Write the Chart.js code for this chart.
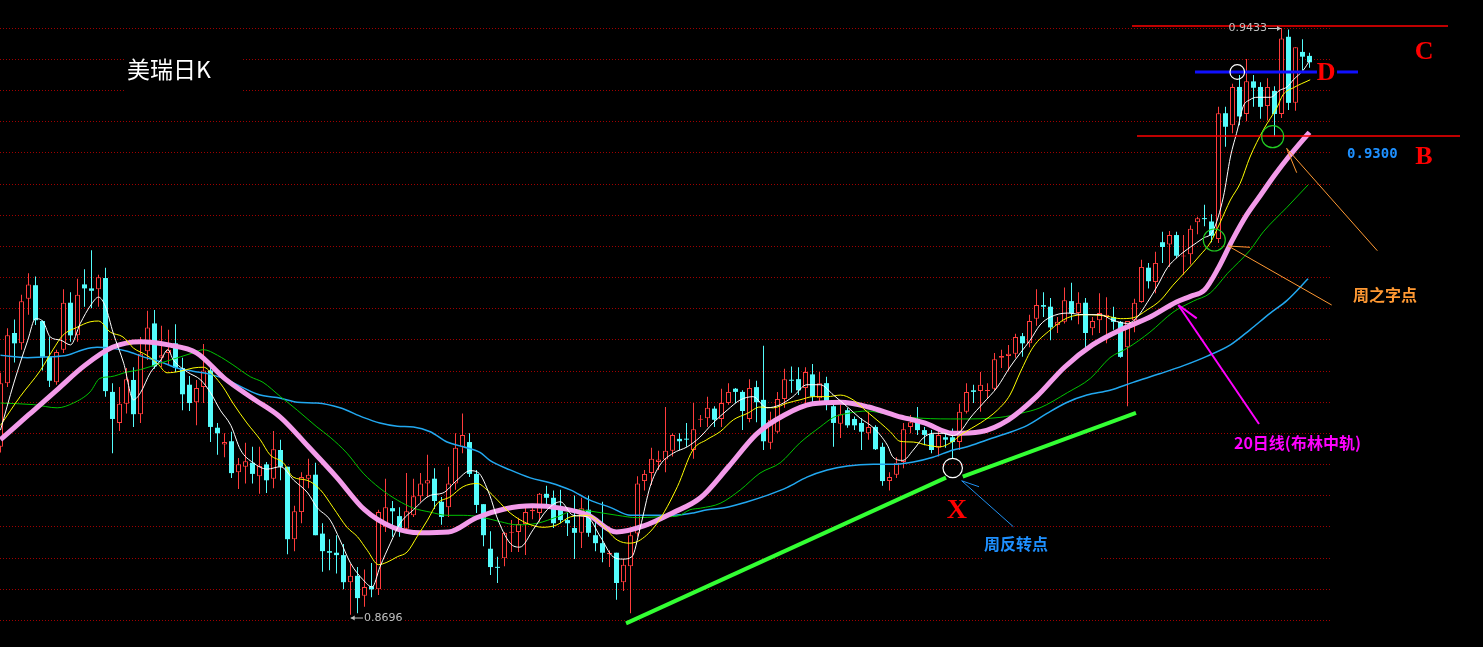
<!DOCTYPE html>
<html><head><meta charset="utf-8">
<script src="https://cdn.jsdelivr.net/npm/chart.js@4.4.1/dist/chart.umd.min.js"></script>
<style>html,body{margin:0;padding:0;background:#000;overflow:hidden}canvas{display:block}</style>
</head><body>
<canvas id="c" width="1483" height="647"></canvas>
<script>
// ---- candle data (index 0..187), daily OHLC ----
const open = [0.8907,0.8987,0.9050,0.9037,0.9093,0.9110,0.9065,0.9020,0.8988,0.9029,
0.9088,0.9047,0.9111,0.9106,0.9105,0.9119,0.8976,0.8937,0.8961,0.8991,
0.8948,0.9027,0.9062,0.9019,0.9025,0.9037,0.9006,0.8985,0.8963,0.8982,
0.9003,0.8931,0.8910,0.8914,0.8875,0.8882,0.8887,0.8870,0.8885,0.8867,
0.8903,0.8882,0.8791,0.8825,0.8867,0.8872,0.8798,0.8776,0.8774,0.8771,
0.8737,0.8745,0.8720,0.8732,0.8728,0.8806,0.8830,0.8820,0.8804,0.8821,
0.8845,0.8861,0.8867,0.8838,0.8831,0.8861,0.8907,0.8913,0.8873,0.8835,
0.8779,0.8756,0.8767,0.8799,0.8800,0.8810,0.8826,0.8824,0.8848,0.8843,
0.8828,0.8815,0.8805,0.8799,0.8828,0.8796,0.8786,0.8772,0.8774,0.8737,
0.8757,0.8798,0.8864,0.8874,0.8888,0.8891,0.8902,0.8917,0.8917,0.8903,
0.8941,0.8943,0.8955,0.8942,0.8962,0.8980,0.8976,0.8942,0.8982,0.8966,
0.8912,0.8926,0.8967,0.8991,0.8992,0.8981,0.8998,0.8968,0.8987,0.8958,
0.8936,0.8953,0.8942,0.8937,0.8924,0.8932,0.8907,0.8864,0.8872,0.8888,
0.8932,0.8937,0.8928,0.8923,0.8906,0.8919,0.8919,0.8913,0.8951,0.8978,
0.8977,0.8977,0.8980,0.9019,0.9021,0.9024,0.9046,0.9037,0.9068,0.9085,
0.9083,0.9060,0.9064,0.9090,0.9075,0.9088,0.9056,0.9066,0.9070,0.9070,
0.9064,0.9032,0.9066,0.9089,0.9132,0.9114,0.9164,0.9161,0.9173,0.9146,
0.9149,0.9189,0.9194,0.9190,0.9168,0.9326,0.9311,0.9359,0.9325,0.9366,
0.9359,0.9335,0.9354,0.9325,0.9422,0.9339,0.9403,0.9398];
const high = [0.9000,0.9056,0.9067,0.9098,0.9125,0.9121,0.9066,0.9045,0.9029,0.9105,
0.9101,0.9118,0.9130,0.9154,0.9123,0.9132,0.8987,0.8982,0.9006,0.9007,
0.9045,0.9078,0.9079,0.9059,0.9054,0.9061,0.9019,0.8996,0.8991,0.9036,
0.9010,0.8937,0.8924,0.8926,0.8893,0.8912,0.8907,0.8907,0.8888,0.8927,
0.8916,0.8882,0.8833,0.8875,0.8892,0.8887,0.8811,0.8791,0.8796,0.8785,
0.8760,0.8756,0.8753,0.8761,0.8828,0.8867,0.8839,0.8831,0.8874,0.8867,
0.8874,0.8897,0.8880,0.8844,0.8882,0.8924,0.8949,0.8924,0.8878,0.8835,
0.8801,0.8769,0.8800,0.8815,0.8818,0.8833,0.8834,0.8849,0.8858,0.8852,
0.8853,0.8824,0.8846,0.8843,0.8846,0.8815,0.8838,0.8777,0.8774,0.8766,
0.8800,0.8870,0.8878,0.8906,0.8902,0.8957,0.8924,0.8924,0.8937,0.8962,
0.8947,0.8970,0.8958,0.8980,0.8987,0.8981,0.8978,0.8992,0.8990,0.9034,
0.8951,0.8976,0.9005,0.9008,0.9007,0.9007,0.9011,0.9001,0.8995,0.8960,
0.8960,0.8956,0.8945,0.8943,0.8951,0.8934,0.8912,0.8875,0.8894,0.8937,
0.8947,0.8957,0.8932,0.8928,0.8928,0.8926,0.8930,0.8961,0.8987,0.8985,
0.9001,0.8987,0.9025,0.9029,0.9035,0.9049,0.9050,0.9073,0.9105,0.9101,
0.9094,0.9070,0.9107,0.9113,0.9101,0.9094,0.9070,0.9100,0.9095,0.9083,
0.9065,0.9065,0.9093,0.9142,0.9138,0.9152,0.9177,0.9178,0.9177,0.9173,
0.9185,0.9196,0.9211,0.9199,0.9334,0.9334,0.9363,0.9374,0.9394,0.9374,
0.9365,0.9370,0.9360,0.9433,0.9431,0.9409,0.9419,0.9402];
const low = [0.8900,0.8982,0.9013,0.9029,0.9073,0.9060,0.9003,0.8982,0.8985,0.9025,
0.9039,0.9039,0.9083,0.9081,0.9083,0.8970,0.8899,0.8927,0.8949,0.8932,
0.8937,0.9016,0.9005,0.9007,0.9010,0.9001,0.8953,0.8952,0.8934,0.8962,
0.8913,0.8897,0.8894,0.8868,0.8854,0.8861,0.8861,0.8848,0.8849,0.8855,
0.8865,0.8772,0.8776,0.8811,0.8855,0.8796,0.8750,0.8752,0.8748,0.8728,
0.8696,0.8698,0.8706,0.8718,0.8721,0.8800,0.8794,0.8794,0.8799,0.8819,
0.8838,0.8844,0.8829,0.8809,0.8819,0.8853,0.8899,0.8869,0.8824,0.8782,
0.8746,0.8736,0.8757,0.8775,0.8775,0.8771,0.8816,0.8813,0.8833,0.8805,
0.8811,0.8795,0.8766,0.8780,0.8794,0.8776,0.8762,0.8756,0.8715,0.8726,
0.8698,0.8794,0.8852,0.8859,0.8878,0.8875,0.8895,0.8903,0.8907,0.8892,
0.8932,0.8932,0.8932,0.8932,0.8960,0.8962,0.8928,0.8938,0.8938,0.8903,
0.8904,0.8924,0.8956,0.8975,0.8972,0.8960,0.8962,0.8960,0.8953,0.8907,
0.8918,0.8931,0.8928,0.8903,0.8916,0.8903,0.8858,0.8852,0.8868,0.8880,
0.8924,0.8922,0.8909,0.8899,0.8895,0.8906,0.8893,0.8903,0.8949,0.8962,
0.8951,0.8967,0.8977,0.9006,0.9003,0.9019,0.9020,0.9032,0.9059,0.9070,
0.9041,0.9050,0.9062,0.9066,0.9061,0.9032,0.9047,0.9050,0.9037,0.9054,
0.9019,0.8958,0.9051,0.9088,0.9106,0.9100,0.9138,0.9133,0.9144,0.9123,
0.9136,0.9174,0.9184,0.9164,0.9163,0.9284,0.9301,0.9311,0.9316,0.9334,
0.9319,0.9317,0.9297,0.9320,0.9330,0.9329,0.9380,0.9383];
const close = [0.8987,0.9047,0.9037,0.9090,0.9111,0.9066,0.9020,0.8990,0.9026,0.9088,
0.9047,0.9098,0.9106,0.9103,0.9120,0.8977,0.8942,0.8961,0.8992,0.8948,
0.9024,0.9057,0.9008,0.9022,0.9029,0.9006,0.8973,0.8962,0.8981,0.9003,
0.8932,0.8924,0.8913,0.8874,0.8885,0.8889,0.8873,0.8883,0.8865,0.8904,
0.8882,0.8791,0.8826,0.8869,0.8872,0.8796,0.8776,0.8774,0.8771,0.8737,
0.8745,0.8717,0.8731,0.8728,0.8825,0.8831,0.8826,0.8804,0.8826,0.8845,
0.8861,0.8865,0.8839,0.8819,0.8861,0.8906,0.8922,0.8873,0.8834,0.8796,
0.8756,0.8755,0.8799,0.8800,0.8810,0.8825,0.8828,0.8848,0.8843,0.8811,
0.8815,0.8811,0.8799,0.8830,0.8799,0.8786,0.8774,0.8774,0.8736,0.8759,
0.8796,0.8861,0.8873,0.8892,0.8891,0.8902,0.8922,0.8914,0.8916,0.8929,
0.8942,0.8956,0.8941,0.8962,0.8976,0.8976,0.8952,0.8981,0.8963,0.8914,
0.8941,0.8967,0.8992,0.8990,0.8978,0.9001,0.8970,0.8987,0.8960,0.8937,
0.8948,0.8934,0.8934,0.8926,0.8932,0.8904,0.8864,0.8869,0.8887,0.8929,
0.8938,0.8928,0.8922,0.8903,0.8922,0.8916,0.8913,0.8951,0.8976,0.8976,
0.8985,0.8978,0.9017,0.9021,0.9024,0.9045,0.9037,0.9065,0.9085,0.9083,
0.9057,0.9064,0.9091,0.9075,0.9088,0.9050,0.9065,0.9075,0.9073,0.9064,
0.9020,0.9065,0.9088,0.9133,0.9115,0.9138,0.9158,0.9173,0.9147,0.9147,
0.9181,0.9194,0.9193,0.9172,0.9326,0.9309,0.9359,0.9322,0.9366,0.9358,
0.9334,0.9359,0.9325,0.9420,0.9339,0.9409,0.9397,0.9390];

// ---- moving averages: [candle index, price] ----
const ma5 = [[0,.8928],[1.9,.8987],[3.9,.9041],[5,.9068],[6.1,.9064],[7.1,.9045],[8.6,.9041],[10,.9035],[11.4,.9062],[12.9,.9085],[14,.9095],[15,.9083],[16.1,.9050],[17.6,.9012],[19,.8966],[20,.8975],[21.4,.9000],[22.9,.9016],[23.9,.9029],[24.7,.9016],[26.7,.9001],[28.6,.8991],[30,.8975],[31.4,.8953],[32.9,.8934],[34.3,.8903],[36.1,.8887],[38.1,.8879],[40,.8882],[41.9,.8865],[43.9,.8849],[45.2,.8831],[47.1,.8815],[48.5,.8790],[50,.8761],[51.8,.8740],[53.1,.8731],[54.2,.8756],[55.7,.8786],[57.1,.8811],[59,.8828],[61.4,.8846],[63.2,.8849],[65.2,.8865],[67.1,.8877],[68.2,.8875],[69.9,.8846],[70.9,.8819],[72.8,.8786],[74.2,.8781],[76.1,.8803],[78.1,.8828],[80,.8838],[81.8,.8821],[83.8,.8819],[85.7,.8794],[87.5,.8769],[88.9,.8766],[90.2,.8769],[91.4,.8806],[92.8,.8857],[94.2,.8884],[96.1,.8899],[98.1,.8907],[99.9,.8919],[101.8,.8937],[103.8,.8953],[105.7,.8966],[107.5,.8970],[109.5,.8956],[111.4,.8960],[113.2,.8970],[115.2,.8985],[117.1,.8985],[119,.8972],[121,.8957],[122.8,.8943],[124.7,.8931],[126.7,.8909],[127.5,.8894],[128.9,.8890],[130.4,.8903],[131.8,.8918],[133.2,.8924],[134.7,.8924],[136.1,.8921],[137.1,.8926],[138.5,.8943],[140.4,.8962],[142.4,.8982],[144.2,.9007],[145.7,.9025],[147.1,.9041],[148.5,.9060],[150,.9070],[152.4,.9075],[154.7,.9073],[157.1,.9073],[158.9,.9066],[161,.9062],[162.4,.9070],[163.8,.9088],[165.2,.9108],[166.7,.9132],[168.1,.9145],[170,.9158],[171.8,.9169],[173.2,.9178],[174.7,.9221],[175.7,.9271],[176.7,.9305],[177.5,.9334],[178.5,.9343],[179.5,.9346],[181.4,.9346],[182.8,.9355],[183.8,.9359],[184.7,.9368],[186.1,.9380],[187.1,.9393]];
const ma10 = [[0,.8934],[2.8,.8970],[5.7,.9003],[7.5,.9029],[8.9,.9047],[10.9,.9057],[12.8,.9064],[14,.9065],[15.7,.9051],[17.5,.9045],[19,.9031],[20.9,.9022],[22.4,.9012],[23.8,.9000],[25.7,.9002],[27.5,.9006],[29,.9007],[30.4,.8997],[31.8,.8982],[33.2,.8962],[35.2,.8937],[37.1,.8916],[38.5,.8897],[40.4,.8887],[41.8,.8869],[43.8,.8865],[45.7,.8853],[47.5,.8831],[49.5,.8806],[51,.8794],[52.4,.8777],[54,.8759],[55.2,.8762],[56.7,.8769],[58.1,.8775],[59.5,.8794],[61,.8815],[62.4,.8836],[64.2,.8844],[66.1,.8857],[68.1,.8861],[69.5,.8853],[71,.8840],[72.8,.8824],[75.2,.8811],[77.5,.8806],[79.5,.8809],[81.4,.8819],[83.8,.8821],[85.7,.8811],[88.1,.8790],[89.9,.8786],[91.4,.8790],[93.8,.8811],[96.7,.8857],[98.9,.8903],[100.9,.8916],[102.8,.8926],[104.7,.8941],[106.7,.8949],[108.5,.8957],[110.4,.8956],[112.4,.8962],[114.2,.8966],[116.1,.8970],[118.1,.8970],[120,.8972],[121.8,.8966],[123.8,.8951],[125.7,.8937],[127.1,.8926],[128.5,.8914],[130.4,.8913],[132.4,.8909],[134.2,.8907],[135.7,.8912],[137.5,.8924],[140,.8937],[142.4,.8953],[144.2,.8972],[145.7,.9001],[147.5,.9032],[150,.9054],[152.4,.9069],[155.2,.9073],[158.1,.9071],[160,.9068],[161.8,.9069],[163.8,.9079],[165.7,.9091],[167.5,.9110],[169.5,.9129],[171.4,.9148],[172.8,.9163],[174.2,.9188],[175.7,.9217],[177.1,.9238],[178.5,.9271],[180.4,.9305],[182.4,.9334],[183.2,.9349],[184.7,.9358],[187.1,.9368]];
const ma20 = [[0,.8916],[4,.8947],[8,.8978],[12,.9009],[16,.9032],[20,.9039],[24,.9035],[28,.9025],[32,.8993],[36,.8968],[40,.8944],[44,.8907],[48,.8869],[52,.8828],[56,.8806],[60,.8799],[64,.8800],[68,.8818],[72,.8829],[76,.8833],[80,.8830],[84,.8821],[88,.8800],[92,.8808],[96,.8824],[100,.8843],[104,.8882],[108,.8923],[112,.8947],[116,.8961],[120,.8963],[124,.8957],[128,.8946],[132,.8937],[136,.8924],[140,.8926],[144,.8941],[148,.8970],[152,.9007],[156,.9035],[160,.9054],[164,.9069],[168,.9089],[170,.9096],[172,.9104],[174,.9132],[176,.9167],[178,.9198],[180,.9223],[182,.9248],[184,.9271],[186,.9292],[187,.9302]];
const ma30 = [[0,.8962],[4.7,.8960],[8.1,.8956],[10.4,.8962],[12.8,.8976],[14.2,.8993],[15.7,.8995],[18.1,.9001],[20,.9004],[22.8,.9012],[25.7,.9020],[27.5,.9025],[29,.9029],[31,.9022],[33.2,.9010],[35.7,.8995],[37.5,.8988],[40,.8970],[42.4,.8953],[45.2,.8932],[47.1,.8919],[49.5,.8899],[51.8,.8874],[54.2,.8855],[56.7,.8840],[59,.8830],[61.4,.8825],[63.8,.8821],[66.1,.8821],[68.5,.8819],[71.4,.8813],[73.8,.8809],[76.7,.8811],[79.5,.8819],[82.4,.8828],[85.2,.8825],[88.1,.8821],[91,.8818],[93.8,.8819],[96.7,.8820],[98.5,.8828],[100,.8830],[102.8,.8836],[105.7,.8853],[108.5,.8874],[111.4,.8887],[114.2,.8912],[117.1,.8932],[119,.8944],[121,.8949],[123.8,.8952],[126.7,.8948],[131.4,.8943],[137.1,.8942],[142.8,.8944],[145.7,.8949],[148.5,.8956],[152.4,.8975],[155.7,.8993],[158.5,.9019],[161,.9031],[164.2,.9051],[167.5,.9076],[170.4,.9090],[172.8,.9100],[175.3,.9125],[178.5,.9154],[180.4,.9177],[183.8,.9208],[186.8,.9236]];
const ma60 = [[0,.9022],[3.8,.9019],[7.1,.9020],[9.5,.9022],[11.8,.9029],[13.8,.9032],[15.7,.9031],[18.1,.9027],[20.4,.9020],[22.8,.9014],[25.2,.9006],[27.5,.9002],[30,.8998],[32.4,.8991],[34.7,.8981],[37.1,.8972],[40,.8968],[42.4,.8963],[45.2,.8962],[48.5,.8956],[51.8,.8944],[54.2,.8937],[56.7,.8933],[59,.8932],[61.4,.8926],[63.8,.8913],[66.1,.8907],[68.5,.8900],[69.9,.8890],[72.8,.8878],[75.7,.8868],[78.5,.8862],[81.4,.8853],[84.2,.8840],[87.1,.8831],[90,.8821],[92.8,.8821],[96.1,.8821],[99,.8824],[101,.8828],[103.8,.8831],[106.7,.8838],[109.5,.8846],[112.4,.8856],[115.2,.8869],[118.1,.8878],[121,.8883],[124.7,.8885],[127.5,.8885],[130.4,.8888],[133.2,.8894],[136.1,.8903],[138.1,.8907],[141,.8916],[143.8,.8924],[146.7,.8934],[149.5,.8949],[152.4,.8963],[155.2,.8972],[158.5,.8978],[161.8,.8988],[165.7,.8999],[169,.9009],[172.4,.9021],[175.7,.9035],[178.5,.9054],[181.4,.9075],[183.8,.9091],[186.8,.9118]];

// ---- horizontal grid levels (no labels shown) ----
const gridLevels = [0.94327,0.93936,0.93544,0.93153,0.92761,0.92370,0.91979,0.91587,0.91196,0.90804,
0.90413,0.90022,0.89630,0.89239,0.88848,0.88456,0.88065,0.87673,0.87282,0.86891];

// ---- annotations, in data coordinates [candle index, price] ----
const annoLines = [
  {pts:[[161.64,0.94355],[206.79,0.94355]], color:'#ff0000', w:1.5},
  {pts:[[162.36,0.92974],[208.5,0.92974]], color:'#ff0000', w:1.5},
  {pts:[[170.64,0.93778],[188.07,0.93778]], color:'#1010ff', w:3},
  {pts:[[190.93,0.93778],[193.93,0.93778]], color:'#1010ff', w:3},
  {pts:[[89.36,0.86853],[135.07,0.88684]], color:'#33ff33', w:4},
  {pts:[[137.46,0.88695],[162.21,0.89498]], color:'#33ff33', w:4},
  {pts:[[137.31,0.88644],[144.69,0.88067]], color:'#2090f0', w:1},
  {pts:[[137.31,0.88644],[139.79,0.88569]], color:'#2090f0', w:1},
  {pts:[[183.74,0.92819],[196.69,0.91533]], color:'#ff9933', w:1},
  {pts:[[183.74,0.92819],[185.17,0.92513]], color:'#ff9933', w:1},
  {pts:[[175.4,0.91592],[190.17,0.90851]], color:'#ff9933', w:1},
  {pts:[[175.4,0.91592],[178.5,0.91576]], color:'#ff9933', w:1},
  {pts:[[168.26,0.90851],[179.79,0.89357]], color:'#ff00ff', w:2},
  {pts:[[168.26,0.90851],[170.89,0.90684]], color:'#ff00ff', w:2}
];
const annoCircles = [
  {i:176.68, p:0.93778, r:7.3, color:'#ffffff'},
  {i:181.74, p:0.92965, r:11, color:'#22cc22'},
  {i:173.40, p:0.91668, r:11, color:'#22cc22'},
  {i:136.03, p:0.88804, r:9.7, color:'#ffffff'}
];
const blankBoxes = [
  {i1:17.93, p1:0.94079, i2:34.50, p2:0.93476},
  {i1:140.36, p1:0.88025, i2:157.07, p2:0.87623}
];
const CJK = '"Noto Sans CJK SC"';
const annoTexts = [
  {t:'美瑞日K', i:18.07, p:0.93815, color:'#ffffff', font:'23px '+CJK, align:'left'},
  {t:'C', i:203.36, p:0.94030, color:'#ff0000', font:'bold 26px "Liberation Serif"', align:'center'},
  {t:'D', i:189.36, p:0.93760, color:'#ff0000', font:'bold 26px "Liberation Serif"', align:'center'},
  {t:'B', i:203.36, p:0.92710, color:'#ff0000', font:'bold 26px "Liberation Serif"', align:'center'},
  {t:'0.9300', i:192.36, p:0.92748, color:'#1e90ff', font:'bold 14px "DejaVu Sans Mono"', align:'left'},
  {t:'X', i:136.64, p:0.88265, color:'#ff0000', font:'bold 28px "Liberation Serif"', align:'center'},
  {t:'周反转点', i:140.5, p:0.87856, color:'#1e90ff', font:'bold 16px '+CJK, align:'left'},
  {t:'周之字点', i:193.21, p:0.90983, color:'#ff9933', font:'bold 16px '+CJK, align:'left'},
  {t:'20日线(布林中轨)', i:176.21, p:0.89124, color:'#ff00ff', font:'bold 16px '+CJK, align:'left'}
];
const priceTags = [
  {t:'0.9433', i:180.93, p:0.94324, align:'right', from:[181.07,0.94324], to:[182.93,0.94324]},
  {t:'0.8696', i:51.93, p:0.86920, align:'left', from:[51.79,0.86920], to:[50.03,0.86920]}
];

const UP = '#ff3c3c', DOWN = '#54fcfc';
const isUp = k => close[k] >= open[k];
const xy = a => a.map(([x, y]) => ({x, y}));
const X_MIN = -0.5 / 7, X_MAX = X_MIN + 190;
const Y_MIN = 0.86556, Y_MAX = 0.94682;

const annoPlugin = {
  id: 'anno',
  beforeDatasetsDraw(chart) {
    const {ctx, scales: {x, y}} = chart;
    ctx.save();
    ctx.fillStyle = '#000';
    blankBoxes.forEach(b => {
      const x1 = x.getPixelForValue(b.i1), x2 = x.getPixelForValue(b.i2);
      const y1 = y.getPixelForValue(b.p1), y2 = y.getPixelForValue(b.p2);
      ctx.fillRect(x1, y1, x2 - x1, y2 - y1);
    });
    ctx.font = '11px "DejaVu Sans"';
    priceTags.forEach(t => {
      const w = ctx.measureText(t.t).width;
      const tx = x.getPixelForValue(t.i), ty = y.getPixelForValue(t.p);
      const ax = x.getPixelForValue(t.to[0]);
      const left = Math.min(t.align === 'right' ? tx - w : tx, ax);
      const right = Math.max(t.align === 'right' ? tx : tx + w, ax);
      ctx.fillRect(left - 1, ty - 6, right - left + 2, 12);
    });
    ctx.restore();
  },
  afterDatasetsDraw(chart) {
    const {ctx, scales: {x, y}} = chart;
    const P = ([i, p]) => [x.getPixelForValue(i), y.getPixelForValue(p)];
    ctx.save();
    ctx.lineCap = 'butt';
    annoLines.forEach(l => {
      ctx.beginPath();
      l.pts.forEach((pt, k) => { const [px, py] = P(pt); k ? ctx.lineTo(px, py) : ctx.moveTo(px, py); });
      ctx.strokeStyle = l.color; ctx.lineWidth = l.w; ctx.stroke();
    });
    annoCircles.forEach(c => {
      const [px, py] = P([c.i, c.p]);
      ctx.beginPath(); ctx.arc(px, py, c.r, 0, Math.PI * 2);
      ctx.strokeStyle = c.color; ctx.lineWidth = 1.2; ctx.stroke();
    });
    ctx.textBaseline = 'middle';
    annoTexts.forEach(t => {
      const [px, py] = P([t.i, t.p]);
      ctx.font = t.font; ctx.fillStyle = t.color; ctx.textAlign = t.align;
      ctx.fillText(t.t, px, py);
    });
    ctx.font = '11px "DejaVu Sans"';
    priceTags.forEach(t => {
      const [px, py] = P([t.i, t.p]);
      ctx.fillStyle = '#c0c0c0'; ctx.textAlign = t.align;
      ctx.fillText(t.t, px, py);
      const [fx, fy] = P(t.from), [tx, ty] = P(t.to);
      ctx.strokeStyle = '#c0c0c0'; ctx.lineWidth = 1;
      ctx.beginPath(); ctx.moveTo(fx, fy); ctx.lineTo(tx, ty); ctx.stroke();
      const d = Math.sign(tx - fx);
      ctx.beginPath(); ctx.moveTo(tx, ty); ctx.lineTo(tx - d * 4, ty - 2.5); ctx.lineTo(tx - d * 4, ty + 2.5); ctx.closePath(); ctx.fill();
    });
    ctx.restore();
  }
};

const lineDs = (data, color, width, order) => ({
  type: 'line', data: xy(data), borderColor: color, borderWidth: width,
  pointRadius: 0, cubicInterpolationMode: 'monotone', order, clip: false
});

const chart = new Chart(document.getElementById('c'), {
  type: 'bar',
  data: {
    datasets: [
      lineDs(ma5, '#ffffff', 1, 0),
      lineDs(ma10, '#ffff00', 1, 1),
      lineDs(ma20, '#f39bea', 5, 2),
      lineDs(ma30, '#00c400', 1, 3),
      lineDs(ma60, '#22a8f0', 1.5, 4),
      {
        type: 'bar', order: 5,
        data: open.map((o, k) => ({x: k, y: [open[k], close[k]]})),
        backgroundColor: c => isUp(c.dataIndex) ? '#000000' : DOWN,
        borderColor: c => isUp(c.dataIndex) ? UP : DOWN,
        borderWidth: c => isUp(c.dataIndex) ? 1 : 0,
        borderSkipped: false, barThickness: 5, maxBarThickness: 5, minBarLength: 1, grouped: false, inflateAmount: 0
      },
      {
        type: 'bar', order: 6,
        data: open.map((o, k) => ({x: k, y: [low[k], high[k]]})),
        backgroundColor: c => isUp(c.dataIndex) ? UP : DOWN,
        borderWidth: 0, barThickness: 1, maxBarThickness: 1, minBarLength: 1, grouped: false, inflateAmount: 0
      }
    ]
  },
  options: {
    responsive: false, animation: false, devicePixelRatio: 1, events: [],
    layout: {padding: {left: 0, top: 0, bottom: 0, right: 153}},
    plugins: {legend: {display: false}, tooltip: {enabled: false}},
    scales: {
      x: {type: 'linear', min: X_MIN, max: X_MAX, display: false, offset: false},
      y: {
        type: 'linear', min: Y_MIN, max: Y_MAX, bounds: 'data', position: 'left',
        afterFit: s => { s.width = 0; },
        afterBuildTicks: s => { s.ticks = gridLevels.map(v => ({value: v})); },
        ticks: {display: false},
        grid: {color: '#a00000', lineWidth: 1, drawTicks: false},
        border: {display: false, dash: [1, 2]}
      }
    }
  },
  plugins: [annoPlugin]
});

if (document.fonts && document.fonts.load) {
  Promise.all(['23px ' + CJK, 'bold 16px ' + CJK, 'bold 26px "Liberation Serif"', 'bold 14px "DejaVu Sans Mono"', '11px "DejaVu Sans"']
    .map(f => document.fonts.load(f, '美瑞日K周反转点之字线布林中轨0.9')))
    .then(() => chart.draw()).catch(() => {});
}
</script>
</body></html>
